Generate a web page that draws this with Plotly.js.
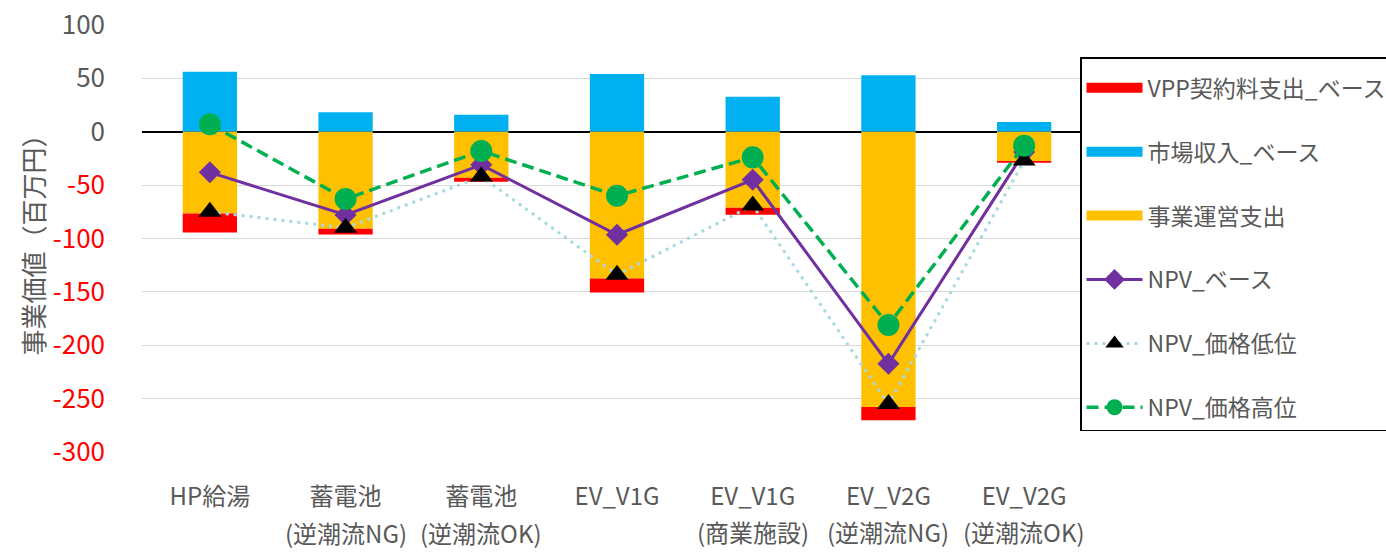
<!DOCTYPE html>
<html>
<head>
<meta charset="utf-8">
<script src="https://cdn.plot.ly/plotly-3.0.1.min.js"></script>
<style>
  html, body { margin: 0; padding: 0; background: #ffffff; }
  #chart { width: 1386px; height: 552px; }
</style>
</head>
<body>
<div id="chart"></div>
<script>
// ---- data ----
const categories = ['HP給湯', '蓄電池(逆潮流NG)', '蓄電池(逆潮流OK)', 'EV_V1G', 'EV_V1G(商業施設)', 'EV_V2G(逆潮流NG)', 'EV_V2G(逆潮流OK)'];
const labelLine1 = ['HP給湯', '蓄電池', '蓄電池', 'EV_V1G', 'EV_V1G', 'EV_V2G', 'EV_V2G'];
const labelLine2 = ['', '(逆潮流NG)', '(逆潮流OK)', '', '(商業施設)', '(逆潮流NG)', '(逆潮流OK)'];

const vppFee      = [-17.8, -5.3, -3.8, -13.1, -6.5, -12.5, -1.5];   // VPP契約料支出_ベース
const marketRev   = [56.2, 18.2, 15.9, 54.1, 32.8, 52.9, 9.1];       // 市場収入_ベース
const opCost      = [-76.5, -90.9, -43.1, -137.5, -71.3, -257.8, -27.5]; // 事業運営支出
const npvBase     = [-38, -78, -31, -96.5, -45, -217.4, -19];        // NPV_ベース
const npvLow      = [-75, -90, -42, -134, -69, -255, -27];           // NPV_価格低位
const npvHigh     = [7, -63, -18, -60, -24, -181, -13];              // NPV_価格高位

const yTickVals = [100, 50, 0, -50, -100, -150, -200, -250, -300];

// ---- styling ----
const grey = '#595959';
const FONT = '"Noto Sans CJK JP", "Noto Sans", sans-serif';
const cRed = '#FF0000', cBlue = '#00B0F0', cYellow = '#FFC000';

const yTickText = yTickVals.map(v => v < 0 ? '<span style="fill:#FF0000;color:#FF0000">' + v + '</span>' : String(v));

const traces = [
  // stacked bars (legend entries are shown by the wide swatches below)
  { type: 'bar', name: '市場収入_ベース', x: categories, y: marketRev,
    marker: { color: cBlue }, showlegend: false, hoverinfo: 'skip' },
  { type: 'bar', name: '事業運営支出', x: categories, y: opCost,
    marker: { color: cYellow }, showlegend: false, hoverinfo: 'skip' },
  { type: 'bar', name: 'VPP契約料支出_ベース', x: categories, y: vppFee,
    marker: { color: cRed }, showlegend: false, hoverinfo: 'skip' },
  // legend swatches for the bar series (no marks drawn)
  { type: 'scatter', mode: 'lines', name: 'VPP契約料支出_ベース', x: [null], y: [null],
    line: { color: cRed, width: 17 }, legendgroup: 'g1', legendrank: 1, hoverinfo: 'skip' },
  { type: 'scatter', mode: 'lines', name: '市場収入_ベース', x: [null], y: [null],
    line: { color: cBlue, width: 17 }, legendgroup: 'g2', legendrank: 2, hoverinfo: 'skip' },
  { type: 'scatter', mode: 'lines', name: '事業運営支出', x: [null], y: [null],
    line: { color: cYellow, width: 17 }, legendgroup: 'g3', legendrank: 3, hoverinfo: 'skip' },
  // NPV lines
  { type: 'scatter', mode: 'lines+markers', name: 'NPV_ベース', x: categories, y: npvBase,
    line: { color: '#7030A0', width: 3 },
    marker: { symbol: 'diamond', size: 17, color: '#7030A0' },
    legendgroup: 'g4', legendrank: 4 },
  { type: 'scatter', mode: 'lines+markers', name: 'NPV_価格低位', x: categories, y: npvLow,
    line: { color: '#A8D8E2', width: 3, dash: '3px,5px' },
    marker: { symbol: 'triangle-up', size: 20, color: '#000000' },
    legendgroup: 'g5', legendrank: 5 },
  { type: 'scatter', mode: 'lines+markers', name: 'NPV_価格高位', x: categories, y: npvHigh,
    line: { color: '#00B050', width: 3.5, dash: '12px,6px' },
    marker: { symbol: 'circle', size: 22, color: '#00B050' },
    legendgroup: 'g6', legendrank: 6 }
];

const annotations = categories.map((c, i) => ({
  xref: 'x', yref: 'paper', x: c,
  y: (i <= 2) ? -0.189 : -0.186,
  yanchor: 'middle', xanchor: 'center',
  text: labelLine2[i], showarrow: false,
  font: { family: FONT, size: 24, color: grey }
})).filter(a => a.text !== '');

const layout = {
  width: 1386, height: 552,
  margin: { l: 142, r: 294, t: 25, b: 100, pad: 0, autoexpand: false },
  paper_bgcolor: '#ffffff', plot_bgcolor: '#ffffff',
  font: { family: FONT, color: grey },
  barmode: 'relative',
  bargap: 0.6,
  showlegend: true,
  legend: {
    x: 0.9874, xanchor: 'left', y: 0.925, yanchor: 'top',
    bgcolor: '#ffffff', bordercolor: '#000000', borderwidth: 1.5,
    font: { family: FONT, size: 23, color: grey },
    title: { text: ' ', font: { size: 6 } },
    traceorder: 'grouped', tracegroupgap: 31, itemwidth: 56
  },
  xaxis: {
    type: 'category',
    tickvals: categories, ticktext: labelLine1,
    tickfont: { family: FONT, size: 24, color: grey },
    showgrid: false, showline: false, zeroline: false, ticks: '',
    ticklabelstandoff: 28
  },
  yaxis: {
    range: [-300, 100],
    tickvals: yTickVals, ticktext: yTickText,
    tickfont: { family: FONT, size: 26, color: grey },
    showgrid: true, gridcolor: '#D9D9D9', gridwidth: 1,
    zeroline: true, zerolinecolor: '#000000', zerolinewidth: 1.5,
    showline: false, ticks: '', ticklabelstandoff: 36,
    title: { text: '事業価値（百万円）', font: { family: FONT, size: 26, color: grey } }
  },
  annotations: annotations
};

Plotly.newPlot('chart', traces, layout, { displayModeBar: false, staticPlot: true });
</script>
</body>
</html>
